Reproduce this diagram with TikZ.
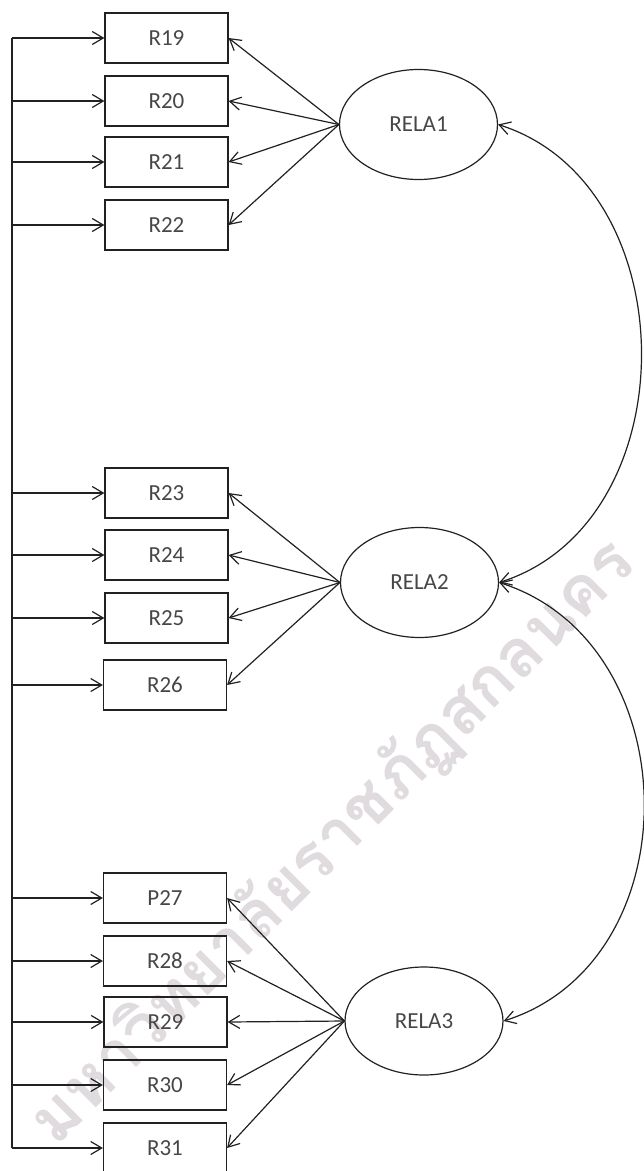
\documentclass[tikz,border=0pt]{standalone}
\usepackage{fontspec}
\setmainfont{Carlito}
\newfontfamily\thaifont[Script=Thai]{Loma}
\usetikzlibrary{arrows.meta,shapes.geometric}
\definecolor{txtgray}{rgb}{0.28,0.28,0.28}
\definecolor{linegray}{rgb}{0.13,0.13,0.13}
\definecolor{wmgray}{rgb}{0.88,0.86,0.87}
\begin{document}
\begin{tikzpicture}[x=1pt,y=-1pt,line width=1.2pt,draw=linegray,
  >={Straight Barb[length=11pt,width=13pt]},
  item/.style={draw=linegray,minimum width=123pt,minimum height=50pt,inner sep=0pt,
    font=\fontsize{23}{25}\selectfont,text=txtgray},
  factor/.style={draw=linegray,ellipse,minimum width=158pt,minimum height=110pt,
    inner sep=0pt,font=\fontsize{23}{25}\selectfont,text=txtgray}]
\useasboundingbox (0,0) rectangle (644,1171);
% watermark
\node[rotate=45,text=wmgray,font=\thaifont\bfseries\fontsize{67}{72}\selectfont] (wmark)
  at (333,842) {มหาวิทยาลัยราชภัฏสกลนคร};
\coordinate (bus) at (12,0);
% observed items
\node[item] (r19) at (166.5,38) {R19};
\node[item] (r20) at (166.5,101) {R20};
\node[item] (r21) at (166.5,162) {R21};
\node[item] (r22) at (166.5,225) {R22};
\node[item] (r23) at (166.5,493) {R23};
\node[item] (r24) at (166.5,555) {R24};
\node[item] (r25) at (166.5,618) {R25};
\node[item] (r26) at (165,685) {R26};
\node[item] (p27) at (165,898) {P27};
\node[item] (r28) at (165,961) {R28};
\node[item] (r29) at (165.5,1022) {R29};
\node[item] (r30) at (165,1085) {R30};
\node[item] (r31) at (165,1148) {R31};
% latent factors
\node[factor] (rela1) at (418.5,124.5) {RELA1};
\node[factor] (rela2) at (419.5,582.5) {RELA2};
\node[factor,minimum height=108pt] (rela3) at (424,1021) {RELA3};
% error bus
\draw (r19.west -| bus) -- (r31.west -| bus);
\foreach \n in {r19,r20,r21,r22,r23,r24,r25,r26,p27,r28,r29,r30,r31}
  \draw[->] (\n.west -| bus) -- (\n.west);
% loadings
\foreach \n in {r19,r20,r21,r22} \draw[->] (rela1.west) -- (\n.east);
\foreach \n in {r23,r24,r25,r26} \draw[->] (rela2.west) -- (\n.east);
\foreach \n in {p27,r28,r29,r30,r31} \draw[->] (rela3.west) -- (\n.east);
% correlations
\draw[<->] (rela1.east) .. controls +(190,60) and +(190,-60) .. (rela2.east);
\draw[<->] (rela2.east) .. controls +(190,60) and +(190,-60) .. (rela3.east);
\end{tikzpicture}
\end{document}
